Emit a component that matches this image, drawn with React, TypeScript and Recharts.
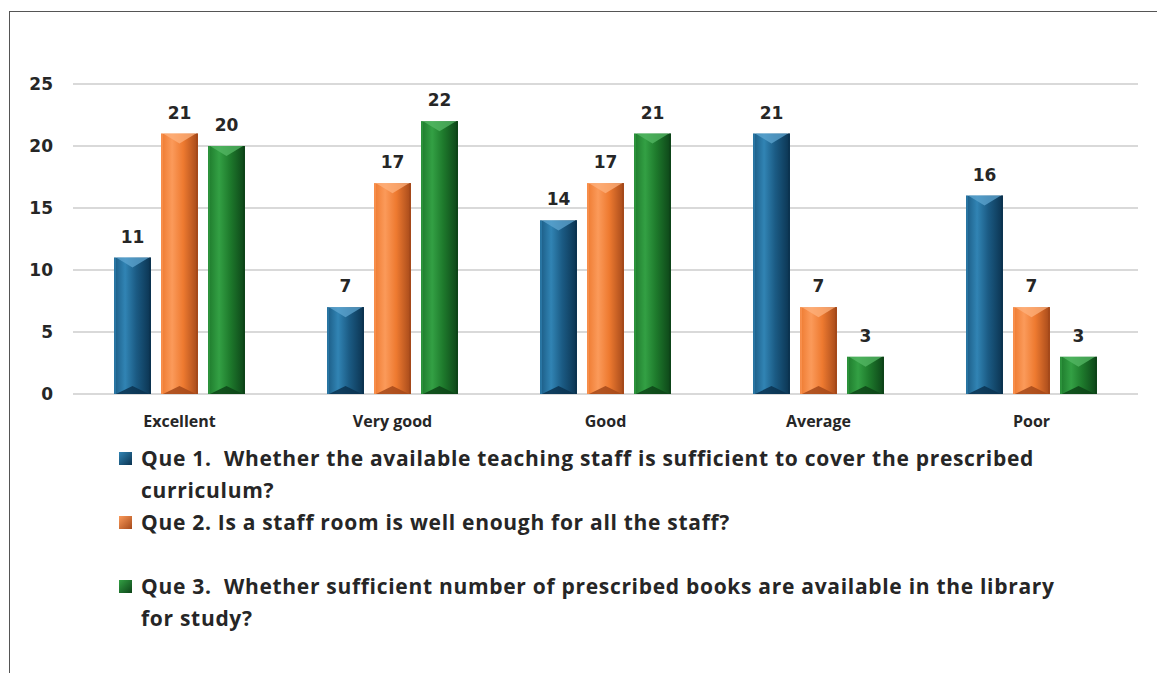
import React from "react";
import { BarChart, Bar, XAxis, YAxis, CartesianGrid, LabelList } from "recharts";

const categories = ["Excellent", "Very good", "Good", "Average", "Poor"];
const que1 = [11, 7, 14, 21, 16];
const que2 = [21, 17, 17, 7, 7];
const que3 = [20, 22, 21, 3, 3];
const yTicks = [0, 5, 10, 15, 20, 25];

const seriesNames = [
  "Que 1.  Whether the available teaching staff is sufficient to cover the prescribed curriculum?",
  "Que 2. Is a staff room is well enough for all the staff?",
  "Que 3.  Whether sufficient number of prescribed books are available in the library for study?",
];
const seriesKeys = ["q1", "q2", "q3"];
const palettes = [
  { base: "#1b5b84", light: "#3184b4", dark: "#0b3350", top: "#5fa6d0" },
  { base: "#ee7a30", light: "#fb9a5a", dark: "#a5491a", top: "#fdb27e" },
  { base: "#1e7a2c", light: "#33a044", dark: "#0d4418", top: "#56b865" },
];

const data = categories.map((c, i) => ({ name: c, q1: que1[i], q2: que2[i], q3: que3[i] }));

const makeShape = (idx: number) => (props: any) => {
  const { x, y, width: w, height: h } = props;
  if (!h || h <= 0) return null;
  const p = palettes[idx];
  const chev = Math.min(10, h / 3);
  return (
    <g>
      <rect x={x} y={y} width={w} height={h} fill={`url(#grad${idx})`} />
      <polygon
        points={`${x + 2},${y} ${x + w - 2},${y} ${x + w / 2},${y + chev}`}
        fill={p.top}
        opacity={0.75}
      />
      <polygon
        points={`${x + 2},${y + h} ${x + w - 2},${y + h} ${x + w / 2},${y + h - chev * 0.8}`}
        fill={p.dark}
        opacity={0.85}
      />
      <rect x={x} y={y} width={2} height={h} fill={p.light} opacity={0.6} />
      <rect x={x + w - 2} y={y} width={2} height={h} fill={p.dark} />
    </g>
  );
};

const LegendBlock = () => (
  <div
    style={{
      position: "absolute",
      left: 119,
      top: 442,
      fontFamily: "'Open Sans', sans-serif",
      fontWeight: 700,
      fontSize: 21,
      letterSpacing: 0.7,
      color: "#262626",
      lineHeight: "32px",
    }}
  >
    {seriesNames.map((n, i) => (
      <div key={i} style={{ display: "flex", alignItems: "flex-start", height: 64 }}>
        <div
          style={{
            width: 13,
            height: 13,
            marginTop: 10,
            marginRight: 9,
            flex: "0 0 auto",
            background: `linear-gradient(135deg, ${palettes[i].light}, ${palettes[i].dark})`,
          }}
        />
        <div style={{ width: 945, whiteSpace: "pre-wrap" }}>{n}</div>
      </div>
    ))}
  </div>
);

export default function App() {
  return (
    <div style={{ position: "absolute", left: 0, top: 0, width: 1157, height: 673, background: "#fff", overflow: "hidden" }}>
      <div
        style={{
          position: "absolute",
          left: 9,
          top: 11,
          width: 1200,
          height: 700,
          borderTop: "1.5px solid #555",
          borderLeft: "1.5px solid #555",
        }}
      />
      <div style={{ position: "absolute", left: 0, top: 0 }}>
        <BarChart
          width={1157}
          height={673}
          data={data}
          margin={{ top: 84, right: 19, left: 0, bottom: 249 }}
          barSize={37}
          barGap={10}
        >
          <defs>
            {palettes.map((p, i) => (
              <linearGradient key={i} id={`grad${i}`} x1="0" y1="0" x2="1" y2="0">
                <stop offset="0%" stopColor={p.base} />
                <stop offset="30%" stopColor={p.light} />
                <stop offset="60%" stopColor={p.base} />
                <stop offset="100%" stopColor={p.dark} />
              </linearGradient>
            ))}
          </defs>
          <CartesianGrid vertical={false} stroke="#d9d9d9" strokeWidth={2} />
          <XAxis
            dataKey="name"
            axisLine={false}
            tickLine={false}
            tickMargin={16}
            height={30}
            tick={{ fill: "#262626", fontSize: 16, fontWeight: 700, fontFamily: "'Open Sans', sans-serif" }}
          />
          <YAxis
            width={73}
            domain={[0, 25]}
            ticks={yTicks}
            axisLine={false}
            tickLine={false}
            tickMargin={14}
            tick={{ fill: "#262626", fontSize: 17, fontWeight: 700, fontFamily: "'DejaVu Sans', sans-serif" }}
          />
          {seriesKeys.map((k, i) => (
            <Bar key={k} dataKey={k} name={seriesNames[i]} fill={palettes[i].base} shape={makeShape(i)} isAnimationActive={false}>
              <LabelList
                dataKey={k}
                position="top"
                offset={15}
                fill="#262626"
                fontSize={17}
                fontWeight={700}
                fontFamily="'DejaVu Sans', sans-serif"
              />
            </Bar>
          ))}
        </BarChart>
      </div>
      <LegendBlock />
    </div>
  );
}
